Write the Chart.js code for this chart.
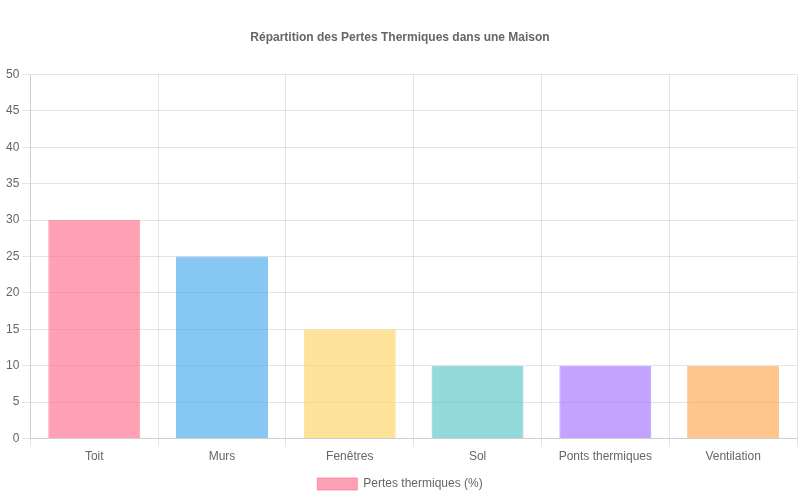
<!DOCTYPE html>
<html>
<head>
<meta charset="utf-8">
<script src="https://cdn.jsdelivr.net/npm/chart.js@4"></script>
<style>
  html, body { margin: 0; padding: 0; background: #fff; }
  #wrap { width: 800px; height: 500px; }
</style>
</head>
<body>
<div id="wrap"><canvas id="pertes_chart"></canvas></div>
<script>
const categories = ['Toit', 'Murs', 'Fenêtres', 'Sol', 'Ponts thermiques', 'Ventilation'];
const pertes = [30, 25, 15, 10, 10, 10];
const fillColors = [
  'rgba(255, 99, 132, 0.6)',
  'rgba(54, 162, 235, 0.6)',
  'rgba(255, 206, 86, 0.6)',
  'rgba(75, 192, 192, 0.6)',
  'rgba(153, 102, 255, 0.6)',
  'rgba(255, 159, 64, 0.6)'
];

Chart.defaults.font.family = '"Liberation Sans", Arial, sans-serif';

new Chart(document.getElementById('pertes_chart'), {
  type: 'bar',
  data: {
    labels: categories,
    datasets: [{
      label: 'Pertes thermiques (%)',
      data: pertes,
      backgroundColor: fillColors,
      borderColor: fillColors,
      borderWidth: 1
    }]
  },
  options: {
    responsive: true,
    maintainAspectRatio: false,
    animation: false,
    layout: { padding: { left: 3, right: 3 } },
    plugins: {
      title: {
        display: true,
        text: 'Répartition des Pertes Thermiques dans une Maison',
        padding: { top: 30, bottom: 30 }
      },
      legend: {
        position: 'bottom',
        labels: { padding: 11 }
      }
    },
    scales: {
      y: {
        beginAtZero: true,
        max: 50,
        ticks: { stepSize: 5 }
      }
    }
  }
});
</script>
</body>
</html>
